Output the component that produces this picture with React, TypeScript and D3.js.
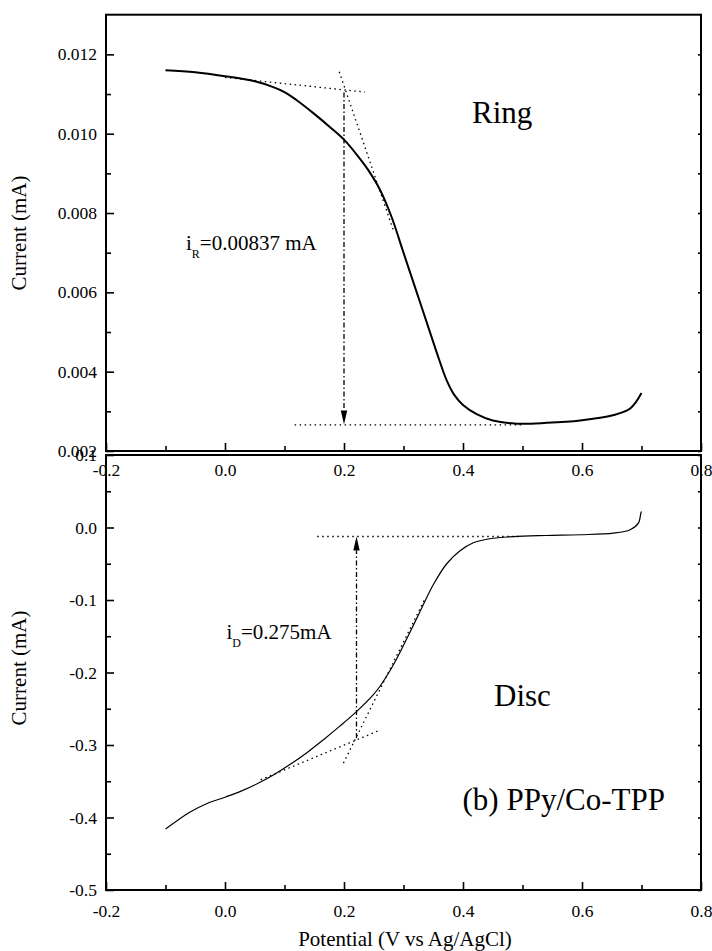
import React, { useEffect, useRef } from "react";
import * as d3 from "d3";

// potential axis (V vs Ag/AgCl)
const potentialTicks = [-0.2, 0.0, 0.2, 0.4, 0.6, 0.8];
const potentialMinor = [-0.1, 0.1, 0.3, 0.5, 0.7];

// ring panel
const ringTicks = [0.002, 0.004, 0.006, 0.008, 0.01, 0.012];
const ringMinor = [0.003, 0.005, 0.007, 0.009, 0.011];
const ringPotential = [-0.1, -0.05, 0.0, 0.05, 0.08, 0.1, 0.12, 0.15, 0.18, 0.2, 0.22, 0.24, 0.26, 0.28, 0.3, 0.32, 0.34, 0.36, 0.3726, 0.385, 0.4, 0.423, 0.45, 0.49, 0.541, 0.597, 0.652, 0.681, 0.7];
const ringCurrent = [0.0116, 0.01155, 0.01145, 0.01132, 0.01118, 0.01105, 0.01085, 0.0105, 0.01012, 0.00985, 0.0095, 0.0091, 0.0086, 0.0079, 0.007, 0.0061, 0.0052, 0.0043, 0.00378, 0.00342, 0.00316, 0.00293, 0.00277, 0.00269, 0.00271, 0.00277, 0.0029, 0.00307, 0.00346];
const ringTopTangent = [[0.0, 0.01142], [0.235, 0.01105]];
const ringSteepTangent = [[0.192, 0.01156], [0.283, 0.00756]];
const ringBaseline = [[0.117, 0.00266], [0.5, 0.00266]];
const ringArrow = [[0.2, 0.01104], [0.2, 0.00267]];

// disc panel
const discTicks = [-0.5, -0.4, -0.3, -0.2, -0.1, 0.0, 0.1];
const discMinor = [-0.45, -0.35, -0.25, -0.15, -0.05, 0.05];
const discPotential = [-0.1, -0.06, -0.031, 0.0, 0.026, 0.054, 0.082, 0.109, 0.137, 0.165, 0.193, 0.221, 0.249, 0.2605, 0.277, 0.2885, 0.3165, 0.333, 0.35, 0.3726, 0.395, 0.4173, 0.445, 0.4845, 0.54, 0.597, 0.6526, 0.681, 0.6947, 0.699, 0.7];
const discCurrent = [-0.416, -0.393, -0.381, -0.372, -0.364, -0.3535, -0.341, -0.327, -0.311, -0.293, -0.274, -0.254, -0.231, -0.219, -0.198, -0.181, -0.135, -0.107, -0.079, -0.05, -0.032, -0.021, -0.0155, -0.0125, -0.011, -0.01, -0.0078, -0.003, 0.006, 0.02, 0.022];
const discTopLine = [[0.155, -0.0124], [0.5, -0.0124]];
const discShallowTangent = [[0.06, -0.348], [0.262, -0.279]];
const discSteepTangent = [[0.199, -0.325], [0.335, -0.1]];
const discArrow = [[0.221, -0.2905], [0.221, -0.0124]];

const W = 712;
const H = 951;
const FONT = "Liberation Serif";

const hyphen = (f) => (d) => f(d).replace("\u2212", "-");

const App = () => {
  const ref = useRef(null);

  useEffect(() => {
    d3.select(ref.current).selectAll("*").remove();
    const svg = d3
      .select(ref.current)
      .append("svg")
      .attr("width", W)
      .attr("height", H)
      .attr("font-family", FONT)
      .style("position", "absolute")
      .style("left", 0)
      .style("top", 0)
      .style("background", "#fff");

    const x = d3.scaleLinear().domain([-0.2, 0.8]).range([106, 701]);
    const yRing = d3.scaleLinear().domain([0.002, 0.013]).range([451, 14.7]);
    const yDisc = d3.scaleLinear().domain([-0.5, 0.1]).range([890, 455]);

    const drawPanel = (y, ticks, minor, fmt, labelPad) => {
      const [yb, yt] = y.range();
      const g = svg.append("g");

      // frame
      g.append("rect")
        .attr("x", x.range()[0])
        .attr("y", yt)
        .attr("width", x.range()[1] - x.range()[0])
        .attr("height", yb - yt)
        .attr("fill", "none")
        .attr("stroke", "#000")
        .attr("stroke-width", 2);

      const left = g.append("g").attr("transform", `translate(${x.range()[0]},0)`);
      left.call(d3.axisLeft(y).tickValues(ticks).tickSize(-8).tickPadding(9).tickFormat(hyphen(fmt)));
      left.append("g").call(d3.axisLeft(y).tickValues(minor).tickSize(-5).tickFormat(() => ""));

      const right = g.append("g").attr("transform", `translate(${x.range()[1]},0)`);
      right.call(d3.axisRight(y).tickValues(ticks.concat(minor)).tickSize(-3).tickFormat(() => ""));

      const bottom = g.append("g").attr("transform", `translate(0,${yb})`);
      bottom.call(d3.axisBottom(x).tickValues(potentialTicks).tickSize(-8).tickPadding(labelPad).tickFormat(hyphen(d3.format(".1f"))));
      bottom.append("g").call(d3.axisBottom(x).tickValues(potentialMinor).tickSize(-5).tickFormat(() => ""));

      g.selectAll(".domain").remove();
      g.selectAll("g").attr("font-family", FONT).attr("font-size", 17.5);
      g.selectAll(".tick line").attr("stroke", "#000").attr("stroke-width", 1.6);
      g.selectAll(".tick text").attr("fill", "#000");
      return g;
    };

    drawPanel(yRing, ringTicks, ringMinor, d3.format(".3f"), 12.5);
    drawPanel(yDisc, discTicks, discMinor, d3.format(".1f"), 15);

    const line = (y) =>
      d3.line().x((d) => x(d[0])).y((d) => y(d[1]));

    // curves
    svg.append("path")
      .datum(ringPotential.map((p, i) => [p, ringCurrent[i]]))
      .attr("d", line(yRing).curve(d3.curveCatmullRom.alpha(0.5)))
      .attr("fill", "none")
      .attr("stroke", "#000")
      .attr("stroke-width", 2);

    svg.append("path")
      .datum(discPotential.map((p, i) => [p, discCurrent[i]]))
      .attr("d", line(yDisc).curve(d3.curveCatmullRom.alpha(0.5)))
      .attr("fill", "none")
      .attr("stroke", "#000")
      .attr("stroke-width", 1.2);

    // dotted construction lines
    const dotted = (pts, y) =>
      svg.append("path")
        .datum(pts)
        .attr("d", line(y))
        .attr("fill", "none")
        .attr("stroke", "#000")
        .attr("stroke-width", 1.3)
        .attr("stroke-dasharray", "1.5,3.5");

    dotted(ringTopTangent, yRing);
    dotted(ringSteepTangent, yRing);
    dotted(ringBaseline, yRing);
    dotted(discTopLine, yDisc);
    dotted(discShallowTangent, yDisc);
    dotted(discSteepTangent, yDisc);

    // dash-dot arrows
    const arrow = (pts, y) => {
      const x0 = x(pts[0][0]);
      const y0 = y(pts[0][1]);
      const y1 = y(pts[1][1]);
      const dir = y1 > y0 ? 1 : -1;
      const head = 14;
      svg.append("line")
        .attr("x1", x0).attr("y1", y0)
        .attr("x2", x0).attr("y2", y1 - dir * head)
        .attr("stroke", "#000")
        .attr("stroke-width", 1.3)
        .attr("stroke-dasharray", "5,2.5,1.5,2.5");
      svg.append("path")
        .attr("d", `M${x0},${y1} L${x0 - 3.2},${y1 - dir * head} L${x0 + 3.2},${y1 - dir * head} Z`)
        .attr("fill", "#000");
    };
    arrow(ringArrow, yRing);
    arrow(discArrow, yDisc);

    // annotations
    const label = (tx, ty, main, sub, rest, size) => {
      const t = svg.append("text")
        .attr("x", tx)
        .attr("y", ty)
        .attr("font-size", size)
        .attr("fill", "#000");
      t.append("tspan").text(main);
      t.append("tspan").attr("dy", 8).attr("font-size", 12).text(sub);
      t.append("tspan").attr("dy", -8).text(rest);
    };
    label(186, 250, "i", "R", "=0.00837 mA", 21);
    label(226.5, 638.5, "i", "D", "=0.275mA", 21);

    svg.append("text").attr("x", 472).attr("y", 123).attr("font-size", 31).text("Ring");
    svg.append("text").attr("x", 494).attr("y", 706).attr("font-size", 31).text("Disc");
    svg.append("text").attr("x", 462.5).attr("y", 810).attr("font-size", 31).text("(b) PPy/Co-TPP");

    // axis titles
    svg.append("text")
      .attr("transform", "translate(26,233) rotate(-90)")
      .attr("text-anchor", "middle")
      .attr("font-size", 21)
      .text("Current (mA)");
    svg.append("text")
      .attr("transform", "translate(26,668) rotate(-90)")
      .attr("text-anchor", "middle")
      .attr("font-size", 21)
      .text("Current (mA)");
    svg.append("text")
      .attr("x", 405)
      .attr("y", 946)
      .attr("text-anchor", "middle")
      .attr("font-size", 21)
      .text("Potential (V vs Ag/AgCl)");
  }, []);

  return <div ref={ref}></div>;
};

export default App;
